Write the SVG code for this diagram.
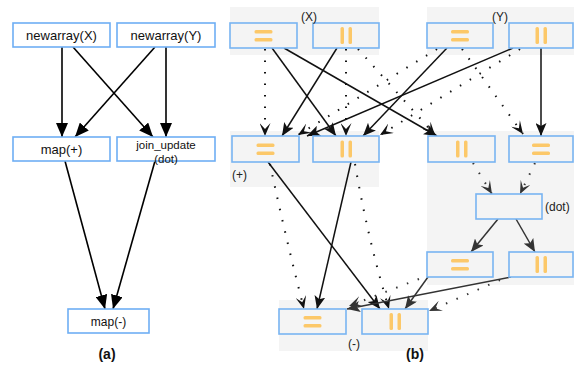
<svg xmlns="http://www.w3.org/2000/svg" width="574" height="370" viewBox="0 0 574 370">
<style>
.bg{fill:#f4f4f4}
.na{fill:#ffffff;stroke:#6eaef4;stroke-width:1.6}
.nb{fill:#f4f4f4;stroke:#78b4f2;stroke-width:1.6}
.bar{fill:#fcc869}
.t{font-family:"Liberation Sans",Arial,sans-serif;fill:#111;text-anchor:middle}
.lab{font-family:"Liberation Sans",Arial,sans-serif;fill:#222;font-size:12px}
.cap{font-family:"Liberation Sans",Arial,sans-serif;fill:#111;font-size:14px;font-weight:bold;text-anchor:middle}
.ea{fill:none;stroke:#000;stroke-width:1.6;marker-end:url(#ha)}
.s{fill:none;stroke:#111;stroke-width:1.5;marker-end:url(#hb)}
.d{fill:none;stroke:#111;stroke-width:2;stroke-dasharray:1.5 10;marker-end:url(#hv)}
.s2{fill:none;stroke:#333;stroke-width:1.5;marker-end:url(#hb2)}
.d2{fill:none;stroke:#333;stroke-width:2;stroke-dasharray:1.5 10;marker-end:url(#hv2)}
</style>
<defs>
<marker id="ha" markerUnits="userSpaceOnUse" markerWidth="14" markerHeight="12" refX="14" refY="6" orient="auto"><path d="M0,0 L14,6 L0,12 z" fill="#000"/></marker>
<marker id="hb" markerUnits="userSpaceOnUse" markerWidth="13" markerHeight="11" refX="13" refY="5.5" orient="auto"><path d="M0,0 L13,5.5 L0,11 L3,5.5 z" fill="#111"/></marker>
<marker id="hv" markerUnits="userSpaceOnUse" markerWidth="13" markerHeight="11" refX="13" refY="5.5" orient="auto"><path d="M0,0 L13,5.5 L0,11 L6,5.5 z" fill="#111"/></marker>
<marker id="hb2" markerUnits="userSpaceOnUse" markerWidth="13" markerHeight="11" refX="13" refY="5.5" orient="auto"><path d="M0,0 L13,5.5 L0,11 L3,5.5 z" fill="#333"/></marker>
<marker id="hv2" markerUnits="userSpaceOnUse" markerWidth="13" markerHeight="11" refX="13" refY="5.5" orient="auto"><path d="M0,0 L13,5.5 L0,11 L6,5.5 z" fill="#333"/></marker>
<g id="eq"><rect class="bar" x="-9" y="-5.5" width="18" height="3.5" rx="1.5"/><rect class="bar" x="-9" y="2.5" width="18" height="3.5" rx="1.5"/></g>
<g id="par"><rect class="bar" x="-5.5" y="-8.5" width="3.5" height="17" rx="1.5"/><rect class="bar" x="2.5" y="-8.5" width="3.5" height="17" rx="1.5"/></g>
</defs>
<rect width="574" height="370" fill="#ffffff"/>

<!-- group backgrounds (b) -->
<g id="groups">
<rect class="bg" x="230" y="7" width="149" height="48"/>
<rect class="bg" x="230" y="131" width="149" height="56"/>
<rect class="bg" x="427" y="7" width="147" height="48"/>
<rect class="bg" x="427" y="131" width="147" height="154"/>
<rect class="bg" x="279" y="300" width="149" height="51"/>
</g>

<!-- connectors -->
<g id="connectors">
<!-- (a) -->
<line class="ea" x1="62" y1="47" x2="62" y2="137"/>
<line class="ea" x1="73" y1="47" x2="153" y2="137"/>
<line class="ea" x1="155" y1="47" x2="75" y2="137"/>
<line class="ea" x1="166" y1="47" x2="166" y2="137"/>
<line class="ea" x1="65" y1="161" x2="105" y2="309"/>
<line class="ea" x1="155" y1="161" x2="113" y2="309"/>
<!-- (b) top to middle -->
<line class="s" x1="272" y1="48" x2="336" y2="136"/>
<line class="s" x1="284" y1="48" x2="437" y2="136"/>
<line class="s" x1="337" y1="48" x2="282" y2="136"/>
<line class="s" x1="447" y1="48" x2="363" y2="136"/>
<line class="s" x1="513" y1="48" x2="307" y2="136"/>
<line class="s" x1="541" y1="48" x2="541" y2="136"/>
<line class="d" x1="265" y1="49" x2="265" y2="136"/>
<line class="d" x1="346" y1="49" x2="346" y2="136"/>
<line class="d" x1="358" y1="49" x2="435" y2="135"/>
<line class="d" x1="437" y1="49" x2="298" y2="135"/>
<line class="d" x1="520" y1="49" x2="380" y2="135"/>
<line class="d" x1="462" y1="49" x2="523" y2="134"/>
<!-- join node -->
<line class="d2" x1="473" y1="163" x2="492" y2="194"/>
<line class="d2" x1="535" y1="163" x2="520" y2="194"/>
<line class="s2" x1="498" y1="219" x2="471" y2="252"/>
<line class="s2" x1="516" y1="219" x2="535" y2="252"/>
<!-- middle to bottom -->
<path class="d" d="M270,164 Q285,235 304,309"/>
<line class="s" x1="268" y1="162" x2="380" y2="309"/>
<line class="s" x1="351" y1="162" x2="317" y2="309"/>
<path class="d" d="M355,164 Q368,240 389,309"/>
<line class="s2" x1="428" y1="277" x2="405" y2="309"/>
<line class="d2" x1="419" y1="279" x2="349" y2="306"/>
<line class="s2" x1="511" y1="277" x2="347" y2="309"/>
<line class="d2" x1="500" y1="280" x2="429" y2="311"/>
</g>

<!-- (a) nodes -->
<g id="a-newarrayX"><rect class="na" x="13" y="23" width="97" height="24"/><text class="t" x="61.5" y="40" font-size="13">newarray(X)</text></g>
<g id="a-newarrayY"><rect class="na" x="117" y="23" width="98" height="24"/><text class="t" x="166" y="40" font-size="13">newarray(Y)</text></g>
<g id="a-mapplus"><rect class="na" x="13" y="137" width="97" height="24"/><text class="t" x="61.5" y="154" font-size="13">map(+)</text></g>
<g id="a-join"><rect class="na" x="117" y="137" width="98" height="24"/><text class="t" x="166" y="149" font-size="11.5">join_update</text><text class="t" x="166" y="163" font-size="11.5">(dot)</text></g>
<g id="a-mapminus"><rect class="na" x="68" y="309" width="81" height="24"/><text class="t" x="108.5" y="325.5" font-size="12">map(-)</text></g>

<!-- (b) nodes -->
<g id="b-X-eq"><rect class="nb" x="230" y="23" width="67" height="25"/><use href="#eq" x="263.5" y="35.5"/></g>
<g id="b-X-par"><rect class="nb" x="313" y="23" width="66" height="25"/><use href="#par" x="346" y="35.5"/></g>
<g id="b-Y-eq"><rect class="nb" x="427" y="23" width="66" height="25"/><use href="#eq" x="460" y="35.5"/></g>
<g id="b-Y-par"><rect class="nb" x="509" y="23" width="64" height="25"/><use href="#par" x="541" y="35.5"/></g>
<g id="b-plus-eq"><rect class="nb" x="232" y="136" width="67" height="26"/><use href="#eq" x="265.5" y="149"/></g>
<g id="b-plus-par"><rect class="nb" x="313" y="136" width="66" height="26"/><use href="#par" x="346" y="149"/></g>
<g id="b-dotin-par"><rect class="nb" x="428" y="136" width="67" height="26"/><use href="#par" x="461.5" y="149"/></g>
<g id="b-dotin-eq"><rect class="nb" x="509" y="136" width="64" height="26"/><use href="#eq" x="541" y="149"/></g>
<g id="b-dot"><rect class="nb" x="476" y="194" width="66" height="25"/></g>
<g id="b-dotout-eq"><rect class="nb" x="427" y="252" width="66" height="25"/><use href="#eq" x="460" y="264.5"/></g>
<g id="b-dotout-par"><rect class="nb" x="509" y="252" width="64" height="25"/><use href="#par" x="541" y="264.5"/></g>
<g id="b-minus-eq"><rect class="nb" x="279" y="309" width="67" height="25"/><use href="#eq" x="312.5" y="321.5"/></g>
<g id="b-minus-par"><rect class="nb" x="362" y="309" width="66" height="25"/><use href="#par" x="395" y="321.5"/></g>

<!-- labels -->
<g id="labels">
<text class="lab" x="309" y="21" text-anchor="middle">(X)</text>
<text class="lab" x="500" y="21" text-anchor="middle">(Y)</text>
<text class="lab" x="232" y="179">(+)</text>
<text class="lab" x="354" y="348" text-anchor="middle">(-)</text>
<text class="lab" x="545" y="211">(dot)</text>
<text class="cap" x="107" y="359">(a)</text>
<text class="cap" x="415" y="359">(b)</text>
</g>
</svg>
